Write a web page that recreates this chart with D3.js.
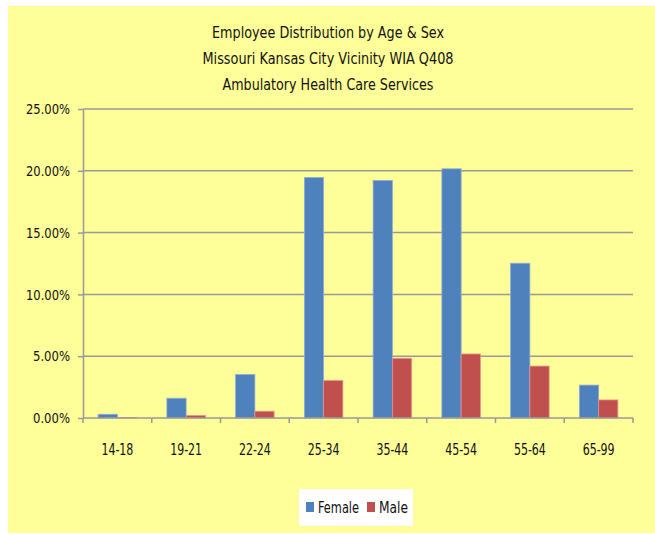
<!DOCTYPE html>
<meta charset="utf-8">
<style>
    body { margin: 0; background: #fff; }
    text {
        font-family: "DejaVu Sans Condensed", "Liberation Sans Narrow", sans-serif;
        fill: #111;
    }
    .grid line { stroke: #999; stroke-width: 1.5px; }
    .axis path, .axis line { stroke: #999; stroke-width: 1.5px; }
</style>
<body>
<svg width="655" height="534"></svg>
<script src="https://d3js.org/d3.v7.min.js"></script>
<script>

    var ageGroups = ["14-18", "19-21", "22-24", "25-34", "35-44", "45-54", "55-64", "65-99"];
    var female = [0.30, 1.60, 3.52, 19.46, 19.22, 20.16, 12.52, 2.66];
    var male = [0.05, 0.20, 0.55, 3.03, 4.83, 5.18, 4.20, 1.46];
    var seriesNames = ["Female", "Male"];
    var seriesColors = ["#4F81BD", "#C0504D"];
    var yTicks = [0, 5, 10, 15, 20, 25];
    var titleLines = ["Employee Distribution by Age & Sex",
        "Missouri Kansas City Vicinity WIA Q408",
        "Ambulatory Health Care Services"];
    var titleWidths = [232, 251, 211]; // measured widths of the title lines

    var svg = d3.select("svg");

    // yellow chart area
    svg.append("rect")
        .attr("x", 8).attr("y", 6)
        .attr("width", 647).attr("height", 527)
        .attr("fill", "#FFFF99");

    svg.append("g").selectAll("text")
        .data(titleLines)
        .enter().append("text")
        .attr("x", function (d, i) { return 328 - titleWidths[i] / 2; })
        .attr("y", function (d, i) { return 38 + i * 26; })
        .attr("font-size", "16.5px")
        .attr("textLength", function (d, i) { return titleWidths[i]; })
        .attr("lengthAdjust", "spacingAndGlyphs")
        .text(function (d) { return d; });

    var x0 = d3.scaleBand().domain(ageGroups).range([83, 633]).paddingInner(0.44).paddingOuter(0.22);
    var x1 = d3.scaleBand().domain(seriesNames).range([0, x0.bandwidth()]);
    var y = d3.scaleLinear().domain([0, 25]).range([418, 109]);

    // gridlines
    svg.append("g")
        .attr("class", "grid")
        .selectAll("line")
        .data(yTicks.slice(1))
        .enter().append("line")
        .attr("x1", 83).attr("x2", 633)
        .attr("y1", function (d) { return y(d); })
        .attr("y2", function (d) { return y(d); });

    var yAxis = svg.append("g")
        .attr("class", "axis")
        .attr("transform", "translate(83,0)")
        .call(d3.axisLeft(y).tickValues(yTicks).tickSize(5).tickSizeOuter(0)
            .tickFormat(function (d) { return d.toFixed(2) + "%"; }));
    yAxis.selectAll("text")
        .attr("font-size", "14.5px").attr("x", -13).attr("font-family", null)
        .attr("textLength", 44).attr("lengthAdjust", "spacingAndGlyphs");
    yAxis.selectAll("text").filter(function (d) { return d < 10; }).attr("textLength", 37);

    // bars
    var rows = ageGroups.map(function (g, i) {
        return { group: g, values: [female[i], male[i]] };
    });

    svg.append("g").selectAll("g")
        .data(rows)
        .enter().append("g")
        .attr("transform", function (d) { return "translate(" + x0(d.group) + ",0)"; })
        .selectAll("rect")
        .data(function (d) { return d.values.map(function (v, j) { return { name: seriesNames[j], value: v, j: j }; }); })
        .enter().append("rect")
        .attr("x", function (d) { return x1(d.name); })
        .attr("width", x1.bandwidth())
        .attr("y", function (d) { return y(d.value); })
        .attr("height", function (d) { return y(0) - y(d.value); })
        .attr("fill", function (d) { return seriesColors[d.j]; })
        .attr("stroke", function (d) { return d.j == 0 ? "#8EAADB" : "#E6928F"; })
        .attr("stroke-width", 0.8);

    // x axis with ticks between categories
    var xAxis = svg.append("g")
        .attr("class", "axis")
        .attr("transform", "translate(0," + y(0) + ")");
    xAxis.append("line").attr("x1", 83).attr("x2", 633);
    var step = 550 / ageGroups.length;
    xAxis.selectAll(".tk")
        .data(d3.range(ageGroups.length + 1))
        .enter().append("line")
        .attr("class", "tk")
        .attr("x1", function (d) { return 83 + d * step; })
        .attr("x2", function (d) { return 83 + d * step; })
        .attr("y1", 0).attr("y2", 5);
    xAxis.selectAll("text")
        .data(ageGroups)
        .enter().append("text")
        .attr("x", function (d) { return x0(d) + x0.bandwidth() / 2 - 16; })
        .attr("y", 37)
        .attr("font-size", "15.5px")
        .attr("textLength", 32)
        .attr("lengthAdjust", "spacingAndGlyphs")
        .text(function (d) { return d; });

    // legend
    var legend = svg.append("g");
    legend.append("rect")
        .attr("x", 299).attr("y", 489).attr("width", 114).attr("height", 37)
        .attr("fill", "#fff");
    var legendText = [41, 29];
    var items = legend.selectAll("g")
        .data(seriesNames)
        .enter().append("g")
        .attr("transform", function (d, i) { return "translate(" + (306 + i * 61) + ",0)"; });
    items.append("rect")
        .attr("y", 502).attr("width", 8).attr("height", 10)
        .attr("fill", function (d, i) { return seriesColors[i]; });
    items.append("text")
        .attr("x", 12).attr("y", 513)
        .attr("font-size", "15px")
        .attr("textLength", function (d, i) { return legendText[i]; })
        .attr("lengthAdjust", "spacingAndGlyphs")
        .text(function (d) { return d; });

</script>
</body>
